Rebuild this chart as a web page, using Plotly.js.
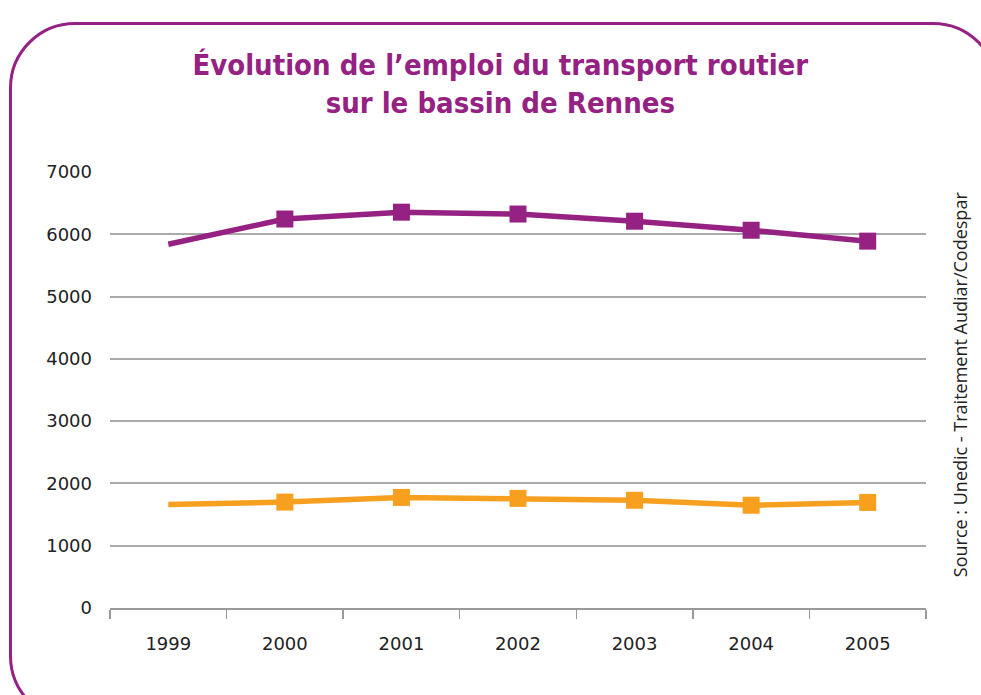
<!DOCTYPE html>
<html>
<head>
<meta charset="utf-8">
<script src="https://cdn.plot.ly/plotly-3.0.1.min.js"></script>
<style>
  html, body { margin: 0; padding: 0; background: #ffffff; width: 981px; height: 695px; overflow: hidden; }
  #frame { position: absolute; left: 9px; top: 22px; width: 990px; height: 700px; border: 3px solid #952282; border-radius: 66px; box-sizing: border-box; }
  #chart { position: absolute; left: 0; top: 0; width: 981px; height: 695px; }
</style>
</head>
<body>
<div id="frame"></div>
<div id="chart"></div>
<script>
const years = ['1999', '2000', '2001', '2002', '2003', '2004', '2005'];
const seriesTotal = [5840, 6245, 6355, 6325, 6210, 6065, 5890];
const seriesOther = [1660, 1700, 1775, 1760, 1730, 1650, 1695];
const yTicks = [0, 1000, 2000, 3000, 4000, 5000, 6000, 7000];
const titleText = 'Évolution de l’emploi du transport routier<br>sur le bassin de Rennes';
const sourceText = 'Source : Unedic - Traitement Audiar/Codespar';

const purple = '#952282';
const orange = '#F7A020';
const markerSizes = years.map((y, i) => i === 0 ? 0 : 17);

const traces = [
  { x: years, y: seriesTotal, type: 'scatter', mode: 'lines+markers',
    line: { color: purple, width: 5.5 },
    marker: { symbol: 'square', size: markerSizes, color: purple, opacity: 1, line: { width: 0 } },
    hoverinfo: 'x+y' },
  { x: years, y: seriesOther, type: 'scatter', mode: 'lines+markers',
    line: { color: orange, width: 5.5 },
    marker: { symbol: 'square', size: markerSizes, color: orange, opacity: 1, line: { width: 0 } },
    hoverinfo: 'x+y' }
];

const tickFont = { family: 'DejaVu Sans, sans-serif', size: 18, color: '#222222' };

const layout = {
  width: 981, height: 695,
  paper_bgcolor: 'rgba(0,0,0,0)', plot_bgcolor: 'rgba(0,0,0,0)',
  margin: { l: 110, r: 55, t: 172, b: 87 },
  showlegend: false,
  title: { text: titleText, x: 0.51, xanchor: 'center', y: 0.892, yanchor: 'top',
    font: { family: 'DejaVu Sans Condensed, Liberation Sans Narrow, sans-serif', size: 29, color: purple, weight: 'bold' } },
  xaxis: {
    type: 'category', range: [-0.5, 6.5], showline: true, linecolor: '#999999', linewidth: 2,
    ticks: 'outside', tickson: 'boundaries', ticklen: 9, tickcolor: '#999999', tickwidth: 1.5,
    showgrid: false, zeroline: false,
    tickfont: tickFont,
    ticklabelstandoff: 18
  },
  yaxis: {
    range: [0, 7000], tickvals: yTicks, ticktext: yTicks.map(String),
    showgrid: true, gridcolor: '#aaaaaa', gridwidth: 2, zeroline: false, showline: false,
    ticks: '', tickfont: tickFont,
    ticklabelstandoff: 17
  },
  annotations: [{
    text: sourceText, xref: 'paper', yref: 'paper', x: 1.042, y: 0.514, xanchor: 'center', yanchor: 'middle',
    textangle: -90, showarrow: false,
    font: { family: 'Open Sans, sans-serif', size: 18, color: '#222222' }
  }]
};

Plotly.newPlot('chart', traces, layout, { displayModeBar: false, staticPlot: true });
</script>
</body>
</html>
